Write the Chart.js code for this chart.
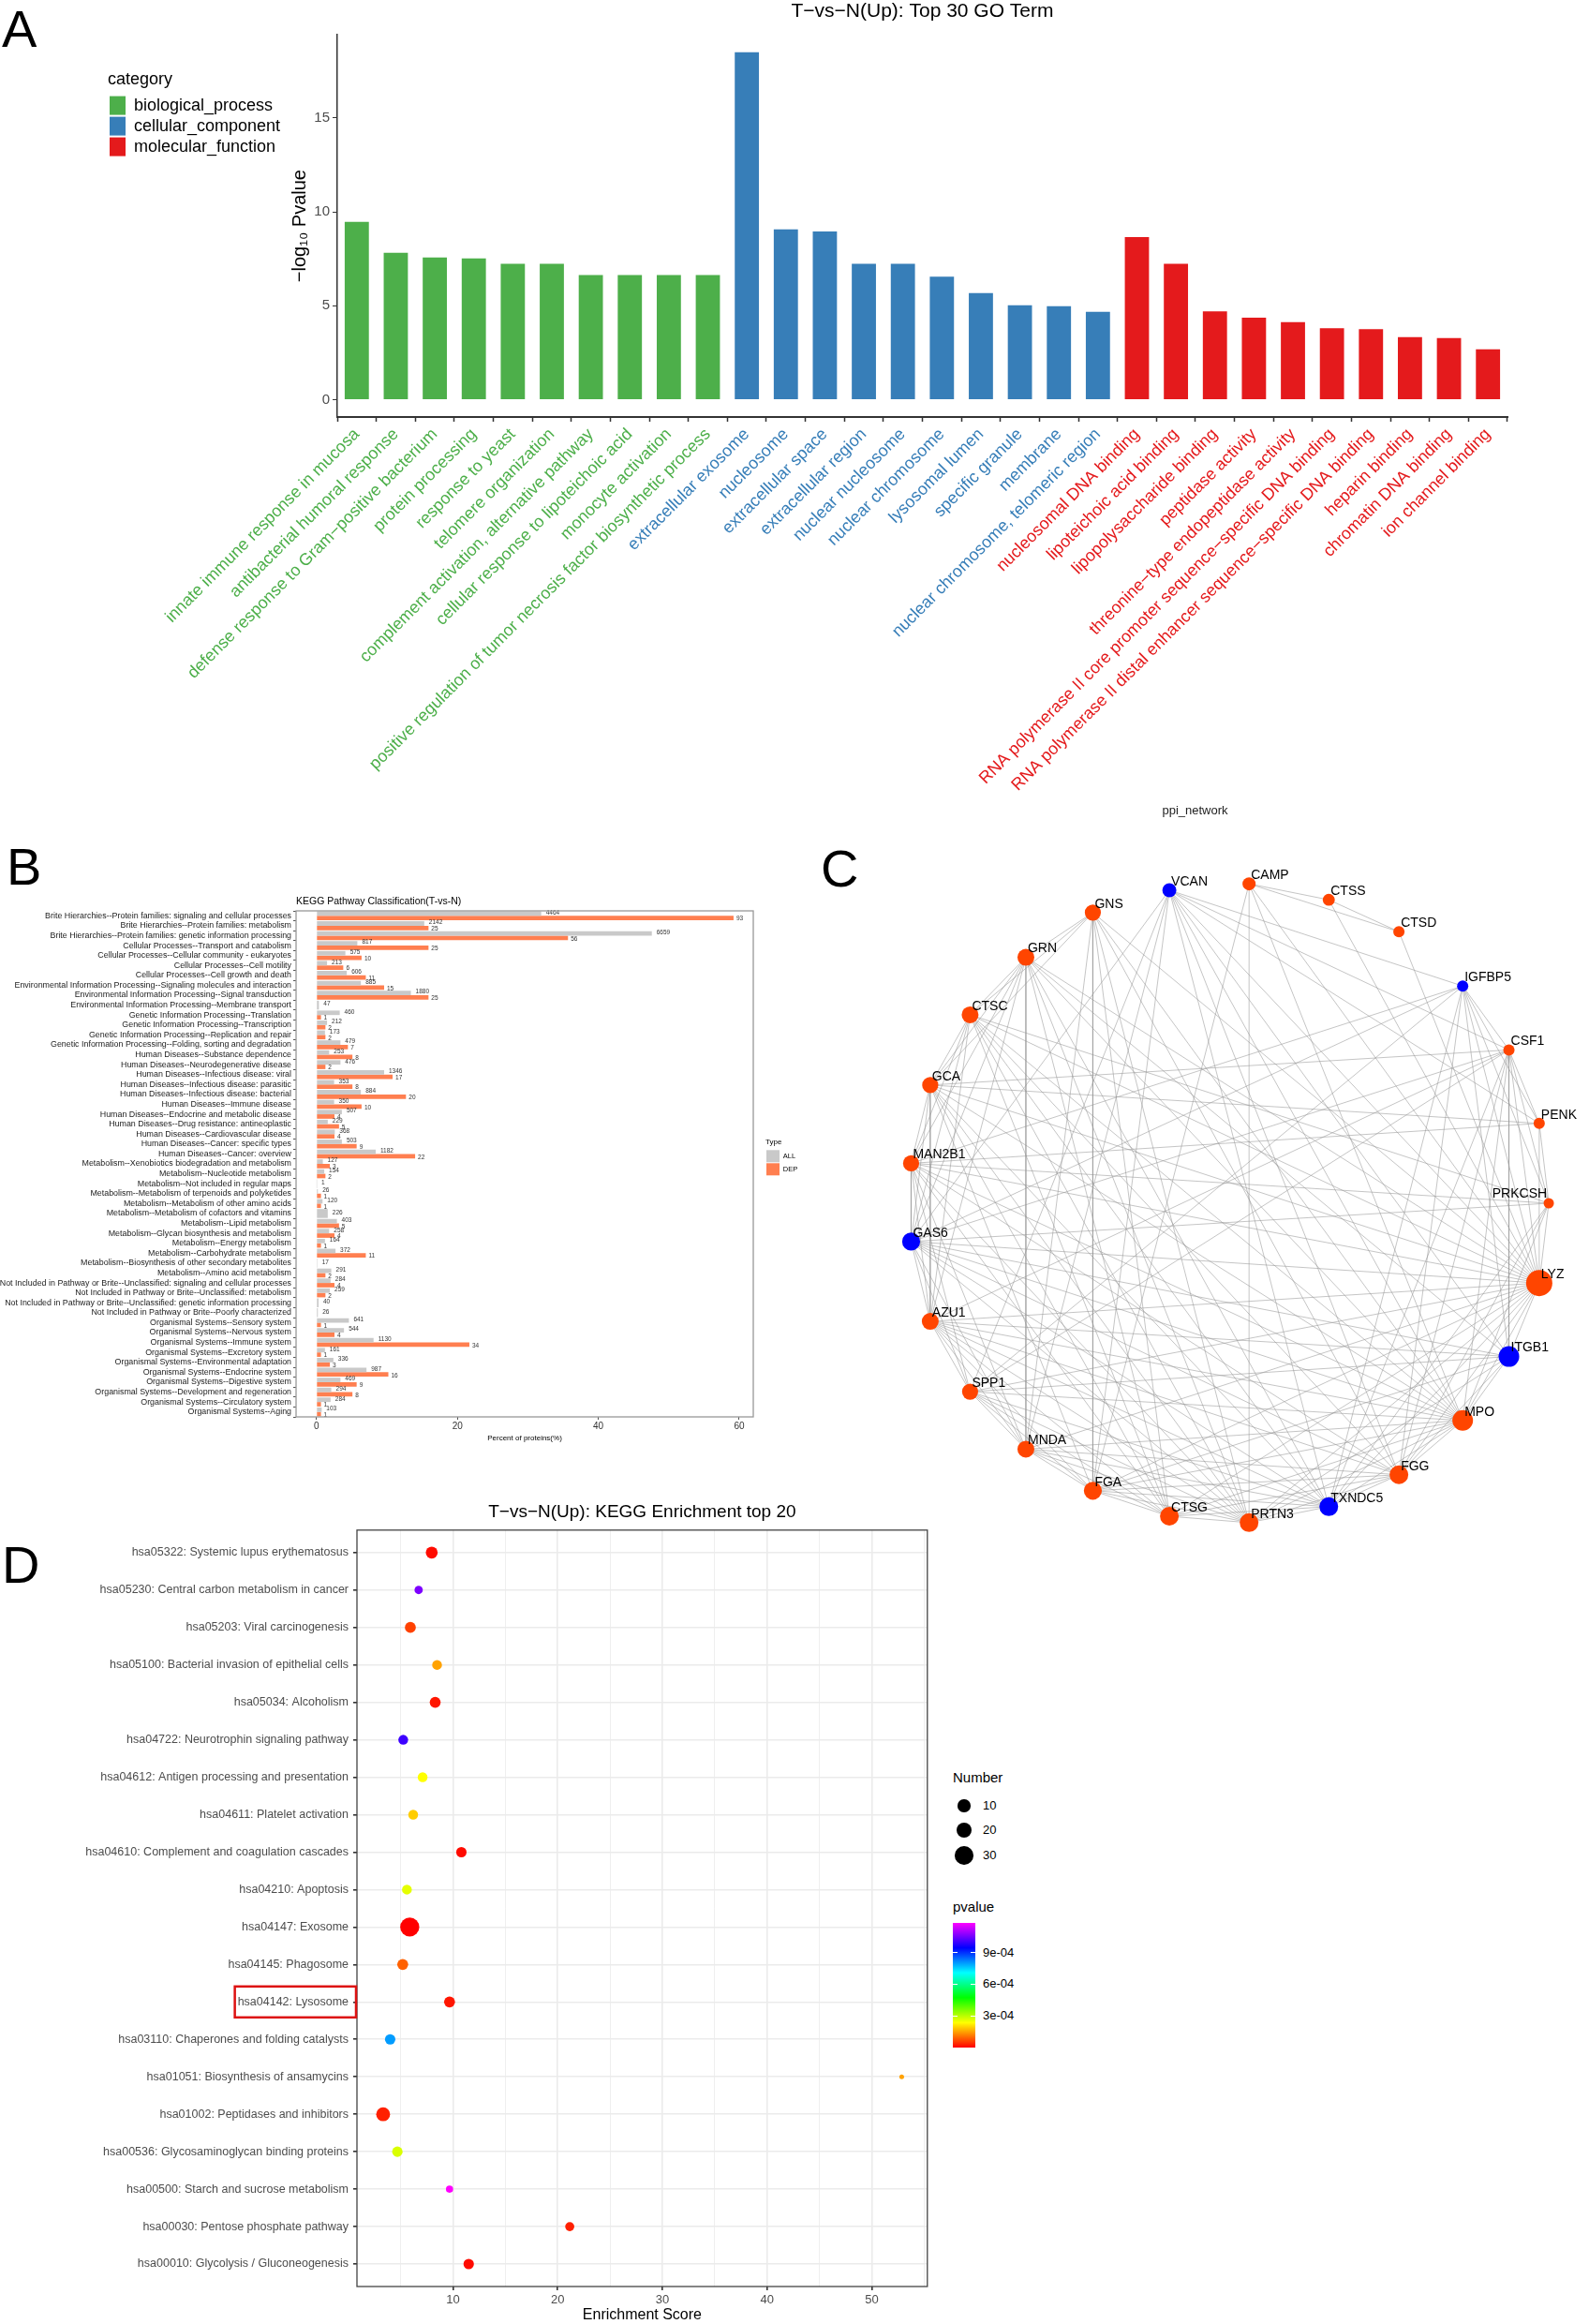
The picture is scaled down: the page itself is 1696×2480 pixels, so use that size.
<!DOCTYPE html>
<html>
<head>
<meta charset="utf-8">
<script src="https://cdn.jsdelivr.net/npm/chart.js@4.4.1/dist/chart.umd.min.js"></script>
<style>
  html, body { margin: 0; padding: 0; background: #fff; }
  body { width: 1696px; height: 2480px; position: relative; overflow: hidden;
         font-family: "Liberation Sans", Arial, Helvetica, sans-serif; }
  canvas { position: absolute; }
  .panel { position: absolute; font-size: 56px; line-height: 1; color: #000; }
  .leg { position: absolute; color: #000; line-height: 1; white-space: nowrap; }
</style>
</head>
<body>
<div class="panel" style="left:2px;top:3px">A</div>
<div class="panel" style="left:7px;top:897px">B</div>
<div class="panel" style="left:876px;top:899px">C</div>
<div class="panel" style="left:2px;top:1642px">D</div>

<canvas id="cA" width="1696" height="885" style="left:0;top:0"></canvas>
<canvas id="cB" width="855" height="610" style="left:0;top:930px"></canvas>
<canvas id="cC" width="841" height="810" style="left:855px;top:850px"></canvas>
<canvas id="cD" width="1000" height="885" style="left:0;top:1595px"></canvas>
<div id="legD"></div>

<script>
// ---------- A: top 30 GO terms ----------
const goTerms = [
  'innate immune response in mucosa', 'antibacterial humoral response',
  'defense response to Gram−positive bacterium', 'protein processing', 'response to yeast',
  'telomere organization', 'complement activation, alternative pathway',
  'cellular response to lipoteichoic acid', 'monocyte activation',
  'positive regulation of tumor necrosis factor biosynthetic process',
  'extracellular exosome', 'nucleosome', 'extracellular space', 'extracellular region',
  'nuclear nucleosome', 'nuclear chromosome', 'lysosomal lumen', 'specific granule', 'membrane',
  'nuclear chromosome, telomeric region',
  'nucleosomal DNA binding', 'lipoteichoic acid binding', 'lipopolysaccharide binding',
  'peptidase activity', 'threonine−type endopeptidase activity',
  'RNA polymerase II core promoter sequence−specific DNA binding',
  'RNA polymerase II distal enhancer sequence−specific DNA binding',
  'heparin binding', 'chromatin DNA binding', 'ion channel binding'
];
const goCategory = [
  'biological_process', 'biological_process', 'biological_process', 'biological_process', 'biological_process',
  'biological_process', 'biological_process', 'biological_process', 'biological_process', 'biological_process',
  'cellular_component', 'cellular_component', 'cellular_component', 'cellular_component', 'cellular_component',
  'cellular_component', 'cellular_component', 'cellular_component', 'cellular_component', 'cellular_component',
  'molecular_function', 'molecular_function', 'molecular_function', 'molecular_function', 'molecular_function',
  'molecular_function', 'molecular_function', 'molecular_function', 'molecular_function', 'molecular_function'
];
const goValues = [
  9.47, 7.82, 7.57, 7.52, 7.23, 7.23, 6.63, 6.63, 6.63, 6.63,
  18.5, 9.07, 8.95, 7.23, 7.23, 6.55, 5.67, 5.03, 4.98, 4.68,
  8.65, 7.23, 4.70, 4.37, 4.13, 3.80, 3.75, 3.33, 3.28, 2.68
];
const goCategories = ['biological_process', 'cellular_component', 'molecular_function'];
const goColors = { biological_process: '#4DAF4A', cellular_component: '#377EB8', molecular_function: '#E41A1C' };
const goTicks = [0, 5, 10, 15];

// ---------- B: KEGG pathway classification ----------
const classTerms = [
  'Brite Hierarchies--Protein families: signaling and cellular processes',
  'Brite Hierarchies--Protein families: metabolism',
  'Brite Hierarchies--Protein families: genetic information processing',
  'Cellular Processes--Transport and catabolism',
  'Cellular Processes--Cellular community - eukaryotes',
  'Cellular Processes--Cell motility',
  'Cellular Processes--Cell growth and death',
  'Environmental Information Processing--Signaling molecules and interaction',
  'Environmental Information Processing--Signal transduction',
  'Environmental Information Processing--Membrane transport',
  'Genetic Information Processing--Translation',
  'Genetic Information Processing--Transcription',
  'Genetic Information Processing--Replication and repair',
  'Genetic Information Processing--Folding, sorting and degradation',
  'Human Diseases--Substance dependence',
  'Human Diseases--Neurodegenerative disease',
  'Human Diseases--Infectious disease: viral',
  'Human Diseases--Infectious disease: parasitic',
  'Human Diseases--Infectious disease: bacterial',
  'Human Diseases--Immune disease',
  'Human Diseases--Endocrine and metabolic disease',
  'Human Diseases--Drug resistance: antineoplastic',
  'Human Diseases--Cardiovascular disease',
  'Human Diseases--Cancer: specific types',
  'Human Diseases--Cancer: overview',
  'Metabolism--Xenobiotics biodegradation and metabolism',
  'Metabolism--Nucleotide metabolism',
  'Metabolism--Not included in regular maps',
  'Metabolism--Metabolism of terpenoids and polyketides',
  'Metabolism--Metabolism of other amino acids',
  'Metabolism--Metabolism of cofactors and vitamins',
  'Metabolism--Lipid metabolism',
  'Metabolism--Glycan biosynthesis and metabolism',
  'Metabolism--Energy metabolism',
  'Metabolism--Carbohydrate metabolism',
  'Metabolism--Biosynthesis of other secondary metabolites',
  'Metabolism--Amino acid metabolism',
  'Not Included in Pathway or Brite--Unclassified: signaling and cellular processes',
  'Not Included in Pathway or Brite--Unclassified: metabolism',
  'Not Included in Pathway or Brite--Unclassified: genetic information processing',
  'Not Included in Pathway or Brite--Poorly characterized',
  'Organismal Systems--Sensory system',
  'Organismal Systems--Nervous system',
  'Organismal Systems--Immune system',
  'Organismal Systems--Excretory system',
  'Organismal Systems--Environmental adaptation',
  'Organismal Systems--Endocrine system',
  'Organismal Systems--Digestive system',
  'Organismal Systems--Development and regeneration',
  'Organismal Systems--Circulatory system',
  'Organismal Systems--Aging'
];
const allCount = [4464, 2142, 6659, 817, 575, 213, 606, 885, 1880, 47, 460, 212, 173, 479, 253, 476, 1346, 353, 884, 350,
  507, 229, 368, 503, 1182, 127, 154, 1, 26, 120, 226, 403, 258, 164, 372, 17, 291, 284, 259, 40, 26,
  641, 544, 1130, 161, 336, 987, 469, 294, 284, 103];
const depCount = [93, 25, 56, 25, 10, 6, 11, 15, 25, null, 1, 2, 2, 7, 8, 2, 17, 8, 20, 10,
  4, 5, 4, 9, 22, 3, 2, null, 1, 1, null, 5, 4, 1, 11, null, 2, 4, 2, null, null,
  1, 4, 34, 1, 3, 16, 9, 8, 1, 1];
// bar lengths, percent of proteins
const allPct = [31.9, 15.3, 47.6, 5.8, 4.1, 1.5, 4.3, 6.3, 13.4, 0.34, 3.3, 1.5, 1.2, 3.4, 1.8, 3.4, 9.6, 2.5, 6.3, 2.5,
  3.6, 1.6, 2.6, 3.6, 8.4, 0.9, 1.1, 0.01, 0.19, 0.86, 1.6, 2.9, 1.8, 1.2, 2.7, 0.12, 2.1, 2.0, 1.9, 0.29, 0.19,
  4.6, 3.9, 8.1, 1.2, 2.4, 7.1, 3.4, 2.1, 2.0, 0.74];
const depPct = [59.2, 15.9, 35.7, 15.9, 6.4, 3.8, 7.0, 9.6, 15.9, null, 0.64, 1.27, 1.27, 4.46, 5.1, 1.27, 10.8, 5.1, 12.7, 6.4,
  2.55, 3.2, 2.55, 5.7, 14.0, 1.9, 1.27, null, 0.64, 0.64, null, 3.2, 2.55, 0.64, 7.0, null, 1.27, 2.55, 1.27, null, null,
  0.64, 2.55, 21.7, 0.64, 1.9, 10.2, 5.7, 5.1, 0.64, 0.64];
const pctTicks = [0, 20, 40, 60];

// ---------- C: PPI network (circular layout coordinates) ----------
const ppiNodes = ['VCAN', 'CAMP', 'CTSS', 'CTSD', 'IGFBP5', 'CSF1', 'PENK', 'PRKCSH', 'LYZ', 'ITGB1', 'MPO', 'FGG',
  'TXNDC5', 'PRTN3', 'CTSG', 'FGA', 'MNDA', 'SPP1', 'AZU1', 'GAS6', 'MAN2B1', 'GCA', 'CTSC', 'GRN', 'GNS'];
const ppiX = [-0.19, 0.06, 0.31, 0.53, 0.73, 0.875, 0.97, 1.0, 0.97, 0.875, 0.73, 0.53,
  0.31, 0.06, -0.19, -0.43, -0.64, -0.815, -0.94, -1.0, -1.0, -0.94, -0.815, -0.64, -0.43];
const ppiY = [0.98, 1.0, 0.95, 0.85, 0.68, 0.48, 0.25, 0.0, -0.25, -0.48, -0.68, -0.85,
  -0.95, -1.0, -0.98, -0.90, -0.77, -0.59, -0.37, -0.12, 0.125, 0.37, 0.59, 0.77, 0.91];
const ppiRadius = [7.5, 7, 6.4, 6, 6, 6, 6, 5.5, 14, 11, 11, 10, 10, 10, 10, 9.6, 9, 8.6, 9, 9.6, 8.6, 8.6, 9, 9, 8.6];
const ppiBlue = ['VCAN', 'IGFBP5', 'ITGB1', 'TXNDC5', 'GAS6'];
const ppiEdges = [
  'GNS-GRN', 'GRN-CTSC', 'CTSC-GCA', 'GCA-MAN2B1', 'MAN2B1-GAS6', 'GAS6-AZU1', 'AZU1-SPP1', 'SPP1-MNDA',
  'MNDA-FGA', 'FGA-CTSG', 'CTSG-PRTN3', 'PRTN3-TXNDC5', 'TXNDC5-FGG', 'FGG-MPO', 'MPO-ITGB1', 'ITGB1-LYZ',
  'LYZ-PRKCSH', 'PRKCSH-PENK', 'PENK-CSF1', 'CSF1-IGFBP5', 'CAMP-CTSS', 'CTSS-CTSD', 'CAMP-CTSD',
  'GNS-CTSC', 'GRN-GCA', 'CTSC-MAN2B1', 'GCA-GAS6', 'MAN2B1-AZU1', 'GAS6-SPP1', 'AZU1-MNDA', 'SPP1-FGA',
  'MNDA-CTSG', 'FGA-PRTN3', 'CTSG-TXNDC5', 'PRTN3-FGG', 'FGG-ITGB1', 'MPO-LYZ', 'LYZ-PENK', 'PRKCSH-CSF1',
  'PENK-IGFBP5', 'GRN-MAN2B1', 'CTSC-GAS6', 'GCA-AZU1', 'MAN2B1-SPP1', 'GAS6-MNDA', 'AZU1-FGA', 'SPP1-CTSG',
  'MNDA-PRTN3', 'FGA-TXNDC5', 'TXNDC5-MPO', 'FGG-LYZ', 'LYZ-CSF1', 'PRKCSH-IGFBP5',
  'GNS-MNDA', 'GNS-FGA', 'GNS-CTSG', 'GNS-PRTN3', 'GNS-LYZ', 'GNS-MPO', 'GNS-FGG', 'GNS-GCA',
  'GRN-MNDA', 'GRN-AZU1', 'GRN-GAS6', 'GRN-CTSG', 'GRN-PRTN3', 'GRN-LYZ', 'GRN-MPO', 'GRN-ITGB1', 'GRN-TXNDC5',
  'CTSC-LYZ', 'CTSC-MPO', 'CTSC-FGG', 'CTSC-TXNDC5', 'CTSC-PRTN3', 'CTSC-CTSG', 'CTSC-PRKCSH', 'CTSC-AZU1',
  'GCA-LYZ', 'GCA-MPO', 'GCA-PRTN3', 'GCA-CTSG', 'GCA-FGA', 'GCA-PENK', 'GCA-CSF1', 'GCA-TXNDC5',
  'MAN2B1-LYZ', 'MAN2B1-PRKCSH', 'MAN2B1-PENK', 'MAN2B1-MPO', 'MAN2B1-FGG', 'MAN2B1-PRTN3', 'MAN2B1-CTSG',
  'MAN2B1-MNDA', 'MAN2B1-IGFBP5',
  'GAS6-LYZ', 'GAS6-PRKCSH', 'GAS6-IGFBP5', 'GAS6-CSF1', 'GAS6-ITGB1', 'GAS6-MPO', 'GAS6-FGG', 'GAS6-TXNDC5',
  'GAS6-PRTN3', 'GAS6-VCAN',
  'AZU1-LYZ', 'AZU1-ITGB1', 'AZU1-MPO', 'AZU1-FGG', 'AZU1-TXNDC5', 'AZU1-PRTN3', 'AZU1-CTSG', 'AZU1-CSF1',
  'SPP1-ITGB1', 'SPP1-MPO', 'SPP1-TXNDC5', 'SPP1-PRTN3', 'SPP1-VCAN', 'SPP1-IGFBP5', 'SPP1-CSF1', 'SPP1-LYZ',
  'MNDA-MPO', 'MNDA-FGG', 'MNDA-TXNDC5', 'MNDA-LYZ', 'MNDA-VCAN',
  'FGA-MPO', 'FGA-FGG', 'FGA-LYZ', 'FGA-VCAN', 'FGA-CAMP', 'FGA-ITGB1',
  'CTSG-LYZ', 'CTSG-MPO', 'CTSG-FGG',
  'PRTN3-LYZ', 'PRTN3-MPO', 'PRTN3-CAMP', 'PRTN3-ITGB1',
  'TXNDC5-LYZ', 'TXNDC5-VCAN', 'TXNDC5-IGFBP5', 'TXNDC5-CSF1', 'TXNDC5-PRKCSH',
  'VCAN-CSF1', 'VCAN-LYZ', 'VCAN-ITGB1', 'VCAN-MPO', 'VCAN-FGG', 'VCAN-PENK', 'VCAN-IGFBP5',
  'CAMP-LYZ', 'CAMP-MPO', 'CTSS-LYZ', 'CTSD-LYZ', 'IGFBP5-ITGB1', 'IGFBP5-FGG', 'IGFBP5-LYZ',
  'CSF1-ITGB1', 'CSF1-MPO', 'CSF1-FGG', 'PRKCSH-FGG', 'PRKCSH-MPO'
];
const ppiLabelLeft = ['PRKCSH'];

// ---------- D: KEGG enrichment top 20 ----------
const keggTerms = [
  'hsa05322: Systemic lupus erythematosus', 'hsa05230: Central carbon metabolism in cancer',
  'hsa05203: Viral carcinogenesis', 'hsa05100: Bacterial invasion of epithelial cells',
  'hsa05034: Alcoholism', 'hsa04722: Neurotrophin signaling pathway',
  'hsa04612: Antigen processing and presentation', 'hsa04611: Platelet activation',
  'hsa04610: Complement and coagulation cascades', 'hsa04210: Apoptosis',
  'hsa04147: Exosome', 'hsa04145: Phagosome', 'hsa04142: Lysosome',
  'hsa03110: Chaperones and folding catalysts', 'hsa01051: Biosynthesis of ansamycins',
  'hsa01002: Peptidases and inhibitors', 'hsa00536: Glycosaminoglycan binding proteins',
  'hsa00500: Starch and sucrose metabolism', 'hsa00030: Pentose phosphate pathway',
  'hsa00010: Glycolysis / Gluconeogenesis'
];
const keggScore = [7.97, 6.72, 5.93, 8.48, 8.30, 5.25, 7.10, 6.20, 10.8, 5.60,
  5.87, 5.20, 9.67, 4.00, 52.85, 3.33, 4.69, 9.67, 21.15, 11.5];
const keggNumber = [9, 3, 7, 5, 7, 5, 5, 5, 6, 5, 33, 7, 7, 6, 1, 14, 6, 2, 4, 6];
const keggPvalue = [1e-5, 1.06e-3, 6e-5, 1.5e-4, 2e-5, 1.0e-3, 2.36e-4, 1.9e-4, 1e-5, 2.6e-4,
  1e-8, 9e-5, 2e-5, 8.0e-4, 1.5e-4, 3e-5, 2.7e-4, 1.18e-3, 3e-5, 1e-5];
const scoreTicks = [10, 20, 30, 40, 50];
const numberTicks = [10, 20, 30];
const pvalueTicks = [3e-4, 6e-4, 9e-4];
const highlightTerm = 'hsa04142: Lysosome';

// ---------- shared ----------
Chart.defaults.font.family = '"Liberation Sans", Arial, Helvetica, sans-serif';
Chart.defaults.color = '#333';

const framePlugin = (id, color, width) => ({
  id,
  afterDraw(chart) {
    const { ctx, chartArea: a } = chart;
    ctx.save();
    ctx.strokeStyle = color;
    ctx.lineWidth = width;
    ctx.strokeRect(a.left, a.top, a.right - a.left, a.bottom - a.top);
    ctx.restore();
  }
});

// ---------- draw A ----------
new Chart(document.getElementById('cA'), {
  type: 'bar',
  data: {
    labels: goTerms,
    datasets: goCategories.map(cat => ({
      label: cat,
      data: goValues.map((v, i) => goCategory[i] === cat ? v : null),
      backgroundColor: goColors[cat],
      borderWidth: 0,
      grouped: false,
      barPercentage: 0.62,
      categoryPercentage: 1.0
    }))
  },
  options: {
    responsive: false,
    animation: false,
    layout: { padding: { left: 115, right: 87, top: 0, bottom: 0 } },
    plugins: {
      title: {
        display: true, text: 'T−vs−N(Up): Top 30 GO Term', fullSize: false,
        font: { size: 21, weight: 'normal' }, color: '#000', padding: { top: 0, bottom: 12 }
      },
      legend: {
        position: 'left', align: 'start', maxWidth: 189,
        title: { display: true, text: 'category', position: 'start', color: '#000',
                 font: { size: 18 }, padding: { top: 76, bottom: 3 } },
        labels: { boxWidth: 17, boxHeight: 20, padding: 2, color: '#000', font: { size: 18 } }
      },
      tooltip: { enabled: false }
    },
    scales: {
      x: {
        offset: true,
        grid: { drawOnChartArea: false, tickLength: 5, tickColor: '#333', tickWidth: 1.5 },
        border: { color: '#333', width: 2 },
        ticks: {
          autoSkip: false, minRotation: 45, maxRotation: 45, padding: 3,
          font: { size: 18 }, color: ctx => goColors[goCategory[ctx.index]]
        },
        afterFit: s => { s.height = 440; }
      },
      y: {
        min: -0.925, max: 19.425,
        afterBuildTicks: s => { s.ticks = goTicks.map(v => ({ value: v })); },
        grid: { drawOnChartArea: false, tickLength: 5, tickColor: '#333' },
        border: { color: '#333', width: 1.5 },
        ticks: { font: { size: 15 }, color: '#4D4D4D', padding: 3 },
        title: { display: true, text: '−log₁₀ Pvalue', font: { size: 20 }, color: '#000', padding: { top: 4, bottom: 4 } },
        afterFit: s => { s.width = 56; }
      }
    }
  }
});

// ---------- draw B ----------
const countLabels = {
  id: 'countLabels',
  afterDatasetsDraw(chart) {
    const ctx = chart.ctx;
    ctx.save();
    ctx.font = '6.5px "Liberation Sans", Arial, sans-serif';
    ctx.fillStyle = '#333';
    ctx.textBaseline = 'middle';
    chart.data.datasets.forEach((ds, di) => {
      chart.getDatasetMeta(di).data.forEach((bar, i) => {
        const n = ds.counts[i];
        if (n == null) return;
        ctx.fillText(String(n), bar.x + (di === 0 ? 5 : 3), bar.y + (di === 0 ? -1 : 1));
      });
    });
    ctx.restore();
  }
};

new Chart(document.getElementById('cB'), {
  type: 'bar',
  data: {
    labels: classTerms,
    datasets: [
      { label: 'ALL', data: allPct, counts: allCount, backgroundColor: '#C9C9C9' },
      { label: 'DEP', data: depPct, counts: depCount, backgroundColor: '#FF7F50' }
    ]
  },
  options: {
    indexAxis: 'y',
    responsive: false,
    animation: false,
    datasets: { bar: { categoryPercentage: 0.9, barPercentage: 1.0, skipNull: true, borderWidth: 0 } },
    layout: { padding: { left: 0, right: 0, top: 0, bottom: 0 } },
    plugins: {
      title: {
        display: true, text: 'KEGG Pathway Classification(T-vs-N)', align: 'start', fullSize: false,
        font: { size: 10.5, weight: 'normal' }, color: '#000', padding: { top: 26, bottom: 3.4 }
      },
      legend: {
        position: 'right', align: 'center', maxWidth: 38,
        title: { display: true, text: 'Type', position: 'start', color: '#000', font: { size: 8 }, padding: { top: 0, bottom: 2 } },
        labels: { boxWidth: 14, boxHeight: 13, padding: 1, color: '#000', font: { size: 7.5 } }
      },
      tooltip: { enabled: false }
    },
    scales: {
      x: {
        min: -2.9, max: 62,
        afterBuildTicks: s => { s.ticks = pctTicks.map(v => ({ value: v })); },
        grid: { drawOnChartArea: false, tickLength: 3, tickColor: '#555' },
        border: { display: false },
        ticks: { font: { size: 10 }, color: '#333', padding: 1 },
        title: { display: true, text: 'Percent of proteins(%)', font: { size: 8 }, color: '#000', padding: { top: 0, bottom: 0 } },
        afterFit: s => { s.height = 28; }
      },
      y: {
        grid: { drawOnChartArea: false, tickLength: 3, tickColor: '#555' },
        border: { display: false },
        ticks: { autoSkip: false, font: { size: 8.9 }, color: '#222', padding: 2 },
        afterFit: s => { s.width = 316; }
      },
      gap: {
        position: 'right', display: true,
        grid: { display: false }, border: { display: false }, ticks: { display: false },
        afterFit: s => { s.width = 13; }
      }
    }
  },
  plugins: [framePlugin('frameB', '#999', 1.3), countLabels]
});

// ---------- draw C ----------
const nodeIndex = Object.fromEntries(ppiNodes.map((n, i) => [n, i]));
const edgePoints = [];
ppiEdges.forEach(e => {
  const [a, b] = e.split('-').map(n => nodeIndex[n]);
  edgePoints.push({ x: ppiX[a], y: ppiY[a] }, { x: ppiX[b], y: ppiY[b] }, { x: null, y: null });
});

const nodeLabels = {
  id: 'nodeLabels',
  afterDatasetsDraw(chart) {
    const ctx = chart.ctx;
    ctx.save();
    ctx.font = '14px "Liberation Sans", Arial, sans-serif';
    ctx.fillStyle = '#000';
    ctx.textBaseline = 'middle';
    chart.getDatasetMeta(0).data.forEach((pt, i) => {
      const name = ppiNodes[i];
      const left = ppiLabelLeft.includes(name);
      ctx.textAlign = left ? 'right' : 'left';
      ctx.fillText(name, pt.x + (left ? -2 : 2), pt.y - (left ? 10 : 9));
    });
    ctx.restore();
  }
};

new Chart(document.getElementById('cC'), {
  type: 'scatter',
  data: {
    datasets: [
      {
        label: 'nodes',
        data: ppiNodes.map((n, i) => ({ x: ppiX[i], y: ppiY[i] })),
        pointRadius: ppiRadius,
        pointBackgroundColor: ppiNodes.map(n => ppiBlue.includes(n) ? '#0000FF' : '#FF4500'),
        pointBorderWidth: 0
      },
      {
        label: 'edges',
        data: edgePoints,
        showLine: true, spanGaps: false,
        borderColor: 'rgba(150,150,150,0.55)', borderWidth: 1,
        pointRadius: 0
      }
    ]
  },
  options: {
    responsive: false,
    animation: false,
    layout: { padding: 0 },
    plugins: {
      title: { display: true, text: 'ppi_network', font: { size: 13, weight: 'normal' }, color: '#222', padding: { top: 8, bottom: 0 } },
      legend: { display: false },
      tooltip: { enabled: false }
    },
    scales: {
      x: { type: 'linear', min: -1.304, max: 1.085, display: false },
      y: { type: 'linear', min: -1.062, max: 1.204, display: false }
    }
  },
  plugins: [nodeLabels]
});

// ---------- draw D ----------
const numberLimits = [1, 33];
const radiusRange = [2.5, 10.2];
const pvalueLimits = [0, 1.18e-3];
const rainbow = [[255, 0, 0], [255, 255, 0], [0, 255, 0], [0, 255, 255], [0, 0, 255], [255, 0, 255]];

function sizeOf(n) {
  const t = Math.sqrt((n - numberLimits[0]) / (numberLimits[1] - numberLimits[0]));
  return radiusRange[0] + t * (radiusRange[1] - radiusRange[0]);
}
function colorOf(p) {
  const t = Math.min(1, Math.max(0, (p - pvalueLimits[0]) / (pvalueLimits[1] - pvalueLimits[0])));
  const s = t * (rainbow.length - 1);
  const k = Math.min(rainbow.length - 2, Math.floor(s));
  const f = s - k;
  const c = rainbow[k].map((v, j) => Math.round(v + (rainbow[k + 1][j] - v) * f));
  return `rgb(${c[0]},${c[1]},${c[2]})`;
}

const highlightBox = {
  id: 'highlightBox',
  afterDraw(chart) {
    const { ctx } = chart;
    const ys = chart.scales.y;
    const py = ys.getPixelForValue(keggTerms.indexOf(highlightTerm));
    ctx.save();
    ctx.font = '12.5px "Liberation Sans", Arial, sans-serif';
    const w = ctx.measureText(highlightTerm).width;
    const right = ys.right - 5;
    ctx.strokeStyle = '#DD1111';
    ctx.lineWidth = 2.5;
    ctx.strokeRect(right - w - 7, py - 16.5, w + 11, 33);
    ctx.restore();
  }
};

const scoreGrid = scoreTicks.flatMap(v => [v - 5, v]).concat([scoreTicks[scoreTicks.length - 1] + 5]);

new Chart(document.getElementById('cD'), {
  type: 'scatter',
  data: {
    datasets: [{
      label: 'Enrichment',
      data: keggTerms.map((t, i) => ({ x: keggScore[i], y: i })),
      pointRadius: c => sizeOf(keggNumber[c.dataIndex]),
      pointBackgroundColor: c => colorOf(keggPvalue[c.dataIndex]),
      pointBorderWidth: 0
    }]
  },
  options: {
    responsive: false,
    animation: false,
    layout: { padding: { left: 0, right: 7, top: 0, bottom: 0 } },
    plugins: {
      title: { display: true, text: 'T−vs−N(Up): KEGG Enrichment top 20', fullSize: false,
               font: { size: 19, weight: 'normal' }, color: '#000', padding: { top: 7, bottom: 8 } },
      legend: { display: false },
      tooltip: { enabled: false }
    },
    scales: {
      x: {
        min: 0.83, max: 55.3,
        afterBuildTicks: s => { s.ticks = scoreGrid.map(v => ({ value: v })); },
        grid: {
          color: '#EBEBEB',
          lineWidth: c => scoreTicks.includes(c.tick.value) ? 1.6 : 0.8,
          tickLength: 4,
          tickColor: c => scoreTicks.includes(c.tick.value) ? '#333' : 'rgba(0,0,0,0)'
        },
        border: { display: false },
        ticks: { font: { size: 13 }, color: '#4D4D4D', padding: 3,
                 callback: v => scoreTicks.includes(v) ? String(v) : '' },
        title: { display: true, text: 'Enrichment Score', font: { size: 16 }, color: '#000', padding: { top: 0, bottom: 0 } },
        afterFit: s => { s.height = 40; }
      },
      y: {
        reverse: true, min: -0.6, max: 19.6,
        afterBuildTicks: s => { s.ticks = keggTerms.map((t, i) => ({ value: i })); },
        grid: { color: '#EBEBEB', lineWidth: 1.6, tickLength: 4, tickColor: '#333' },
        border: { display: false },
        ticks: { font: { size: 12.5 }, color: '#4D4D4D', padding: 5, callback: v => keggTerms[v] },
        afterFit: s => { s.width = 381; }
      }
    }
  },
  plugins: [framePlugin('frameD', '#444', 1.3), highlightBox]
});

// ---------- D legends (size + colour bar) ----------
const legD = document.getElementById('legD');
function addLeg(html, style) {
  const d = document.createElement('div');
  d.className = 'leg';
  d.innerHTML = html;
  Object.assign(d.style, style);
  legD.appendChild(d);
  return d;
}
addLeg('Number', { left: '1017px', top: '1889px', fontSize: '15px' });
const numberY = [1927, 1953, 1980];
numberTicks.forEach((n, k) => {
  const r = sizeOf(n);
  addLeg('', { left: (1029 - r) + 'px', top: (numberY[k] - r) + 'px', width: 2 * r + 'px', height: 2 * r + 'px',
               borderRadius: '50%', background: '#000' });
  addLeg(String(n), { left: '1049px', top: (numberY[k] - 7) + 'px', fontSize: '13px' });
});
addLeg('pvalue', { left: '1017px', top: '2027px', fontSize: '15px' });
const barTop = 2052, barH = 133, barLeft = 1017, barW = 24;
const stops = rainbow.map((c, k) => `rgb(${c.join(',')}) ${k / (rainbow.length - 1) * 100}%`).join(',');
addLeg('', { left: barLeft + 'px', top: barTop + 'px', width: barW + 'px', height: barH + 'px',
             background: `linear-gradient(to top, ${stops})` });
pvalueTicks.forEach(p => {
  const y = barTop + barH - (p - pvalueLimits[0]) / (pvalueLimits[1] - pvalueLimits[0]) * barH;
  addLeg('', { left: barLeft + 'px', top: (y - 0.5) + 'px', width: '5px', height: '1px', background: '#fff' });
  addLeg('', { left: (barLeft + barW - 5) + 'px', top: (y - 0.5) + 'px', width: '5px', height: '1px', background: '#fff' });
  addLeg(p.toExponential(0).replace('e-', 'e-0'), { left: '1049px', top: (y - 7) + 'px', fontSize: '13px' });
});
</script>
</body>
</html>
